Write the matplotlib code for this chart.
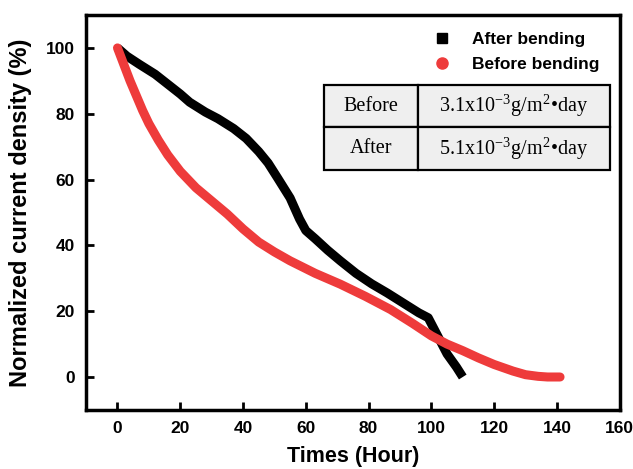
import matplotlib
matplotlib.use("Agg")
from matplotlib import pyplot as plt
from matplotlib.lines import Line2D

plt.rcParams['font.family'] = ['Liberation Sans', 'DejaVu Sans']
plt.rcParams['mathtext.fontset'] = 'stix'

# after bending (black squares)
after_t = [0, 3, 7, 12, 16, 20, 23, 28, 32, 37, 41, 45, 48, 51, 55, 58, 60,
           63, 67, 71, 76, 81, 86, 91, 96, 99, 102, 105, 108, 110]
after_y = [100, 97.5, 95, 92, 89, 86, 83.5, 80.5, 78.5, 75.5, 72.5, 68.5, 65,
           60.5, 54.4, 48, 44.5, 42, 38.5, 35.3, 31.5, 28.3, 25.5, 22.5, 19.5,
           18, 12.5, 7, 3, 0]

# before bending (red circles)
before_t = [0, 2, 4, 6, 8, 10, 13, 16, 20, 25, 30, 35, 40, 45, 50, 55, 63,
            71, 79, 87, 94, 100, 105, 110, 115, 120, 126, 130, 134, 137, 141]
before_y = [100, 95, 90, 85.5, 81, 77, 72, 67.5, 62.5, 57.5, 53.5, 49.5, 45,
            41, 38, 35.3, 31.5, 28.2, 24.5, 20.5, 16.3, 12.5, 10, 8, 5.8, 3.8,
            1.8, 0.7, 0.2, 0, 0]

table_rows = [["Before", "3.1x10$^{\\mathregular{-3}}$g/m$^{\\mathregular{2}}$\u2022day"],
              ["After", "5.1x10$^{\\mathregular{-3}}$g/m$^{\\mathregular{2}}$\u2022day"]]

fig = plt.figure(figsize=(6.33, 4.69), dpi=100)
ax = fig.add_axes([0.136, 0.126, 0.843, 0.842])

red = '#ee3b3b'
ax.plot(after_t, after_y, color='black', lw=6.5, solid_capstyle='butt',
        solid_joinstyle='round', zorder=3)
ax.plot(before_t, before_y, color=red, lw=6.5, solid_capstyle='round',
        solid_joinstyle='round', zorder=4)

ax.set_xlim(-10, 160)
ax.set_ylim(-10, 110)
ax.set_xticks(range(0, 161, 20))
ax.set_yticks(range(0, 101, 20))
ax.tick_params(direction='in', length=6, width=2, labelsize=12.5, pad=8)
for lab in ax.get_xticklabels() + ax.get_yticklabels():
    lab.set_fontweight('bold')
for s in ax.spines.values():
    s.set_linewidth(2.5)

ax.set_xlabel("Times (Hour)", fontsize=15.5, fontweight='bold', labelpad=7)
ax.set_ylabel("Normalized current density (%)", fontsize=17, fontweight='bold', labelpad=10)

handles = [Line2D([], [], ls='none', marker='s', color='black', markersize=7),
           Line2D([], [], ls='none', marker='o', color=red, markersize=8)]
leg = ax.legend(handles, ["After bending", "Before bending"], loc='upper right',
                frameon=False, prop={'weight': 'bold', 'size': 12.5},
                handletextpad=0.7, labelspacing=0.55, borderaxespad=0,
                bbox_to_anchor=(0.975, 0.975))

tb = ax.table(cellText=table_rows, colWidths=[0.33, 0.67],
              bbox=[0.446, 0.608, 0.535, 0.215], cellLoc='center', zorder=5)
tb.auto_set_font_size(False)
for (r, c), cell in tb.get_celld().items():
    cell.set_facecolor('#efefef')
    cell.set_edgecolor('black')
    cell.set_linewidth(1.6)
    cell.get_text().set_fontsize(14.5)
    cell.get_text().set_fontfamily('Liberation Serif')

fig.savefig("out.png", dpi=100)
